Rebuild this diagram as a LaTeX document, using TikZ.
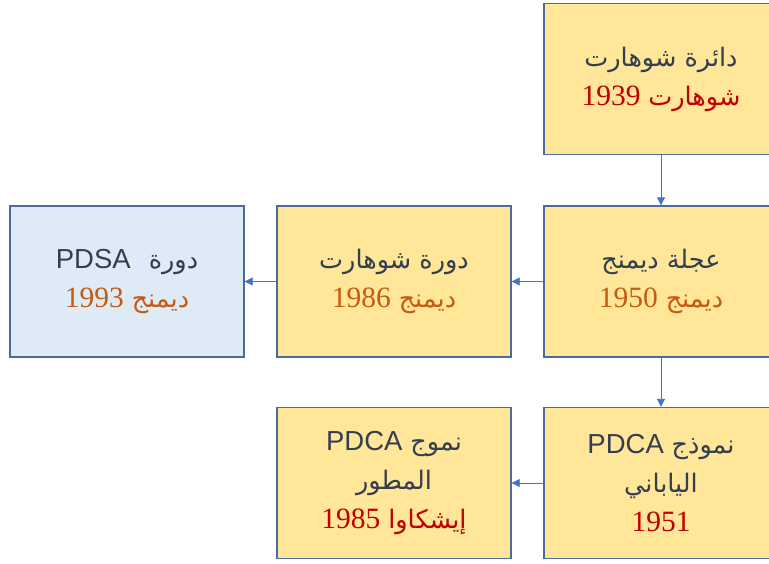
\documentclass[tikz,border=0pt]{standalone}
\usepackage{fontspec}
\usetikzlibrary{arrows.meta}
\TeXXeTstate=1
\newfontfamily\arfont[Script=Arabic]{DejaVu Sans}
\newfontfamily\lsans{Liberation Sans}
\newfontfamily\lserif{Liberation Serif}
\definecolor{boxyellow}{HTML}{FFE699}
\definecolor{boxblue}{HTML}{DEEBF7}
\definecolor{boxborder}{HTML}{4C6A9C}
\definecolor{arrowblue}{HTML}{4472C4}
\definecolor{txtdark}{HTML}{333F50}
\definecolor{txtred}{HTML}{C00000}
\definecolor{txtorange}{HTML}{C55A11}
\newcommand{\arl}[1]{{\arfont\fontsize{25.5}{40}\selectfont\beginR #1\endR}}
\newcommand{\lat}[1]{{\lsans\fontsize{27.5}{40}\selectfont #1}}
\newcommand{\yr}[1]{{\lserif\fontsize{29.5}{40}\selectfont #1}}
\tikzset{
  stagebox/.style={draw=boxborder, line width=1.4pt, fill=boxyellow,
    minimum width=234pt, minimum height=151pt, inner sep=0pt,
    align=center, text=txtdark, font=\fontsize{26}{39}\selectfont},
  bluebox/.style={stagebox, fill=boxblue},
  flow/.style={draw=arrowblue, line width=0.9pt, -{Triangle[length=8pt,width=8pt]}}
}
\begin{document}
\begin{tikzpicture}[x=1pt,y=-1pt]
\clip (0,0) rectangle (769,563);
\fill[white] (0,0) rectangle (769,563);
\node[stagebox] (shewhart) at (661,79)
  {\arl{دائرة شوهارت}\\ \color{txtred}\yr{1939} \arl{شوهارت}};
\node[stagebox] (deming) at (661,281.5)
  {\arl{عجلة ديمنج}\\ \color{txtorange}\yr{1950} \arl{ديمنج}};
\node[stagebox] (shewcycle) at (394,281.5)
  {\arl{دورة شوهارت}\\ \color{txtorange}\yr{1986} \arl{ديمنج}};
\node[bluebox] (pdsa) at (127,281.5)
  {\lat{PDSA}\hspace{18pt}\arl{دورة}\\ \color{txtorange}\yr{1993} \arl{ديمنج}};
\node[stagebox] (japan) at (661,483)
  {\lat{PDCA} \arl{نموذج}\\ \arl{الياباني}\\ \color{txtred}\yr{1951}};
\node[stagebox] (evolved) at (394,483)
  {\lat{PDCA} \arl{نموج}\\ \arl{المطور}\\ \color{txtred}\yr{1985} \arl{إيشكاوا}};
\draw[flow] (shewhart) -- (deming);
\draw[flow] (deming) -- (shewcycle);
\draw[flow] (shewcycle) -- (pdsa);
\draw[flow] (deming) -- (japan);
\draw[flow] (japan) -- (evolved);
\end{tikzpicture}
\end{document}
